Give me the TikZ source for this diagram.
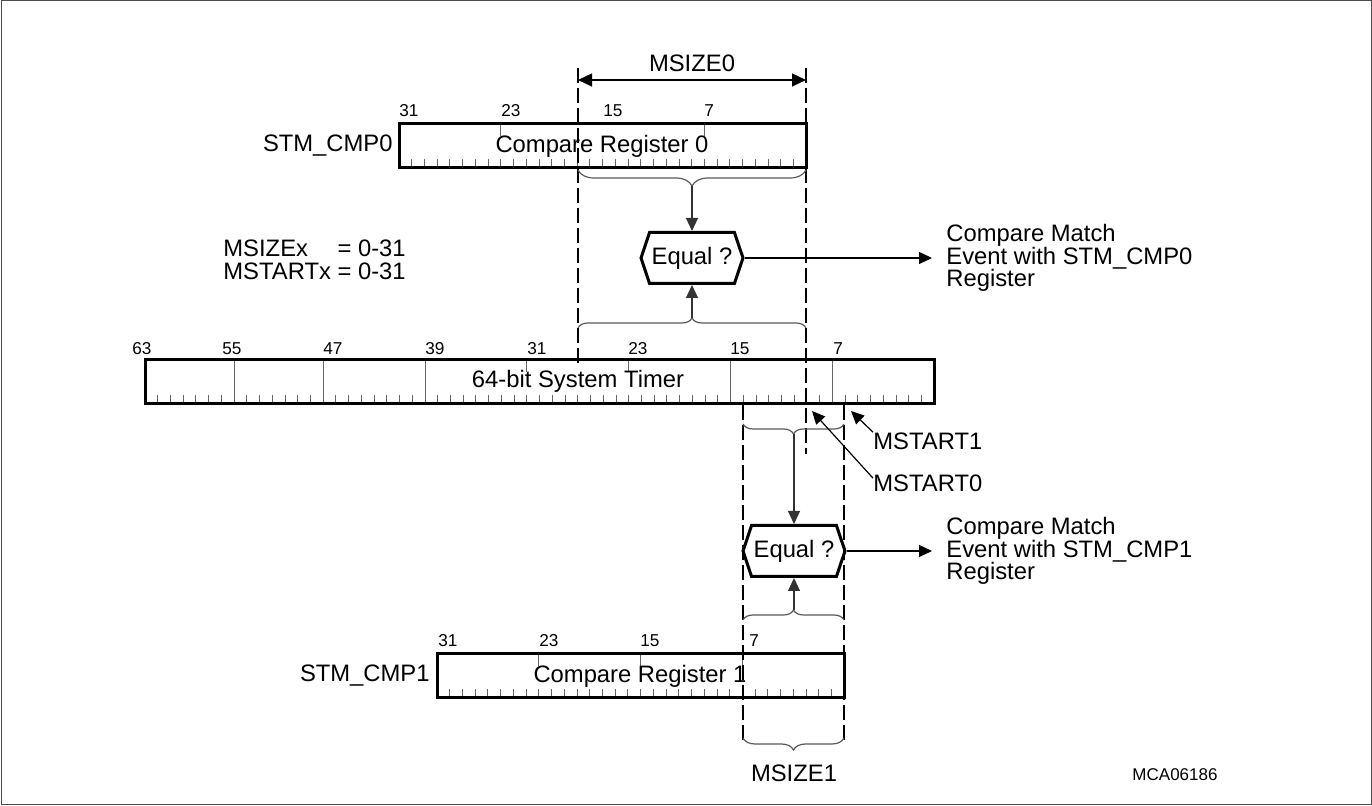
\documentclass[tikz,border=0pt]{standalone}
\usepackage{fontspec}
\setmainfont{Liberation Sans}
\usetikzlibrary{arrows.meta,decorations.pathreplacing,shapes.symbols}

\tikzset{
  txt/.style={font=\fontsize{11.9}{11.3}\selectfont, inner sep=0pt},
  bitno/.style={font=\fontsize{8.6}{9}\selectfont, anchor=base west, inner sep=0pt},
  regbox/.style={line width=1.5pt},
  tk/.style={black!60, line width=0.5pt},
  guide/.style={line width=1pt, dash pattern=on 7.5pt off 2.5pt},
  arr/.style={-{Triangle[length=6.5pt,width=6pt]}, line width=0.6pt},
  brc/.style={decorate, decoration={brace, amplitude=#1}, black!65, line width=0.6pt},
  brc/.default=5pt,
  eqbox/.style={signal, signal to=west and east, signal pointer angle=143, draw,
    line width=1.5pt, minimum width=51pt, minimum height=25.5pt, inner sep=0pt,
    font=\fontsize{11.9}{11.3}\selectfont}
}
\def\bw{12.73}

\begin{document}
\begin{tikzpicture}[x=0.5pt,y=-0.5pt]
  \useasboundingbox (0,0) rectangle (1372,806);
  \draw[black!70, line width=0.5pt] (1,1) rectangle (1371,805);

  % compare register 0
  \foreach \i in {1,...,31}
    \draw[tk] ({399+\i*\bw},159) -- ++(0,9);
  \foreach \i in {8,24}
    \draw[tk] ({399+\i*\bw},124) -- ++(0,12);
  \draw[regbox] (399,124) rectangle (806,168);
  \foreach \x/\n in {399/31,501/23,603/15,704/7}
    \node[bitno] (c0b\n) at (\x,117) {\n};
  \node[txt] (cmp0) at (602,146) {Compare Register 0};
  \node[txt, anchor=east] (lcmp0) at (393,146) {STM\_CMP0};

  % 64-bit timer
  \foreach \i in {1,...,61}
    \draw[tk] ({145+\i*\bw},395) -- ++(0,9);
  \foreach \i in {7,14,22,46,54}
    \draw[tk] ({145+\i*\bw},360) -- ++(0,44);
  \foreach \i in {30,38}
    \draw[tk] ({145+\i*\bw},360) -- ++(0,12);
  \draw[regbox] (145,360) rectangle (934,404);
  \foreach \x/\n in {132/63,222/55,323/47,425/39,527/31,628/23,730/15,833/7}
    \node[bitno] (tb\n) at (\x,355) {\n};
  \node[txt] (tmr) at (578,381) {64-bit System Timer};

  % compare register 1
  \foreach \i in {1,...,31}
    \draw[tk] ({437+\i*\bw},689) -- ++(0,9);
  \foreach \i in {8,16,24}
    \draw[tk] ({437+\i*\bw},654) -- ++(0,12);
  \draw[regbox] (437,654) rectangle (844,698);
  \foreach \x/\n in {438/31,539/23,640/15,749/7}
    \node[bitno] (c1b\n) at (\x,647) {\n};
  \node[txt] (cmp1) at (640,676) {Compare Register 1};
  \node[txt, anchor=east] (lcmp1) at (430,676) {STM\_CMP1};

  % guide lines
  \draw[guide] (578,68) -- (578,366);
  \draw[guide] (806,68) -- (806,454);
  \draw[guide] (743,405) -- (743,742);
  \draw[guide] (844,405) -- (844,742);

  % MSIZE0
  \coordinate (d0l) at (578,80);
  \coordinate (d0r) at (806,80);
  \draw[{Triangle[length=7pt,width=6.5pt]}-{Triangle[length=7pt,width=6.5pt]}, line width=0.6pt]
    (d0l) -- node[txt, above=4pt] (ms0) {MSIZE0} (d0r);

  % braces
  \draw[brc=8pt] (806,170) -- (578,170);
  \draw[brc] (578,328) -- (806,328);
  \draw[brc] (844,424) -- (743,424);
  \draw[brc] (743,620) -- (844,620);
  \draw[brc=6pt] (844,738) -- (743,738);
  \coordinate (br0a) at (692,186);
  \coordinate (br0b) at (692,318);
  \coordinate (br1a) at (794,434);
  \coordinate (br1b) at (794,610);

  % comparators
  \node[eqbox] (eq0) at (692,258) {Equal ?};
  \node[eqbox] (eq1) at (794,551) {Equal ?};
  \draw[arr, black!80] (br0a) -- (eq0.north);
  \draw[arr, black!80] (br0b) -- (eq0.south);
  \draw[arr, black!80] (br1a) -- (eq1.north);
  \draw[arr, black!80] (br1b) -- (eq1.south);

  \node[txt, anchor=west, align=left] (ev0) at (946,258) {Compare Match\\Event with STM\_CMP0\\Register};
  \node[txt, anchor=west, align=left] (ev1) at (946,551) {Compare Match\\Event with STM\_CMP1\\Register};
  \draw[arr, shorten >=7pt] (eq0.east) -- (ev0.west);
  \draw[arr, shorten >=7pt] (eq1.east) -- (ev1.west);

  % start markers
  \coordinate (st1) at (851,411);
  \coordinate (st0) at (812,411);
  \node[txt, anchor=west] (mst1) at (873,441) {MSTART1};
  \node[txt, anchor=west] (mst0) at (873,483) {MSTART0};
  \draw[arr] (mst1.north west) -- (st1);
  \draw[arr] ([yshift=-2]mst0.north west) -- (st0);

  \node[txt] (ms1) at (794,773) {MSIZE1};
  \node[txt, anchor=west] (rng) at (223,263) {%
    \begin{tabular}{@{}l@{ }l@{}}MSIZEx & = 0-31\\ MSTARTx & = 0-31\end{tabular}};
  \node[font=\fontsize{8.5}{9}\selectfont] (figid) at (1175,775) {MCA06186};
\end{tikzpicture}
\end{document}
